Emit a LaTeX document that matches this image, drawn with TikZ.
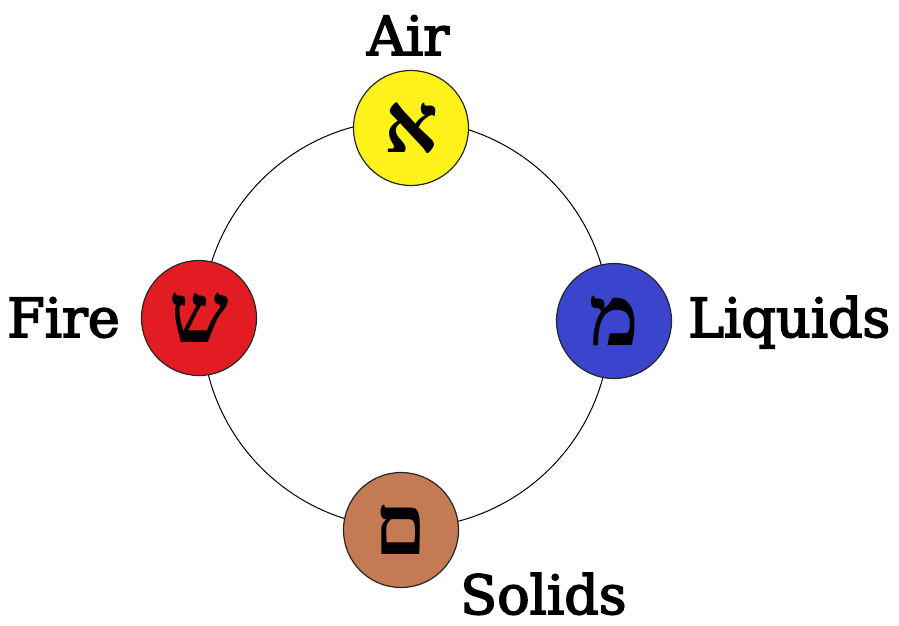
\documentclass[tikz,border=0pt]{standalone}
\usepackage{fontspec}
\TeXXeTstate=1
\setmainfont{DejaVu Serif}
\newfontfamily\lblfont[FakeBold=3]{DejaVu Serif}
\newfontfamily\hebfont[Script=Hebrew]{Liberation Serif}
\definecolor{airY}{HTML}{FFF21A}
\definecolor{fireR}{HTML}{E31B23}
\definecolor{liqB}{HTML}{3A44CC}
\definecolor{solB}{HTML}{C47A52}
\tikzset{
  elem/.style={circle, draw=black!85, line width=1.2pt, minimum size=115pt, inner sep=0pt,
    font=\hebfont\bfseries\fontsize{84}{84}\selectfont},
  lbl/.style={font=\lblfont\fontsize{54}{54}\selectfont, text=black, inner sep=0pt}
}
\begin{document}
\begin{tikzpicture}[x=1pt,y=-1pt]
\useasboundingbox (0,0) rectangle (899,625);
\coordinate (ctr) at (406,324);
\draw[line width=1pt] (ctr) circle[radius=204];
\node[elem, fill=airY] (air) at (411,128) {\beginR א\endR};
\node[elem, fill=fireR] (fire) at (199,318) {\beginR ש\endR};
\node[elem, fill=liqB] (liq) at (614,321) {\beginR מ\endR};
\node[elem, fill=solB] (sol) at (401,530) {\beginR ם\endR};
\node[lbl, anchor=base] (airl) at (408,55) {Air};
\node[lbl, anchor=base east] (firel) at (120,337) {Fire};
\node[lbl, anchor=base west] (liql) at (688,337) {Liquids};
\node[lbl, anchor=base west] (soll) at (460,614) {Solids};
\end{tikzpicture}
\end{document}
